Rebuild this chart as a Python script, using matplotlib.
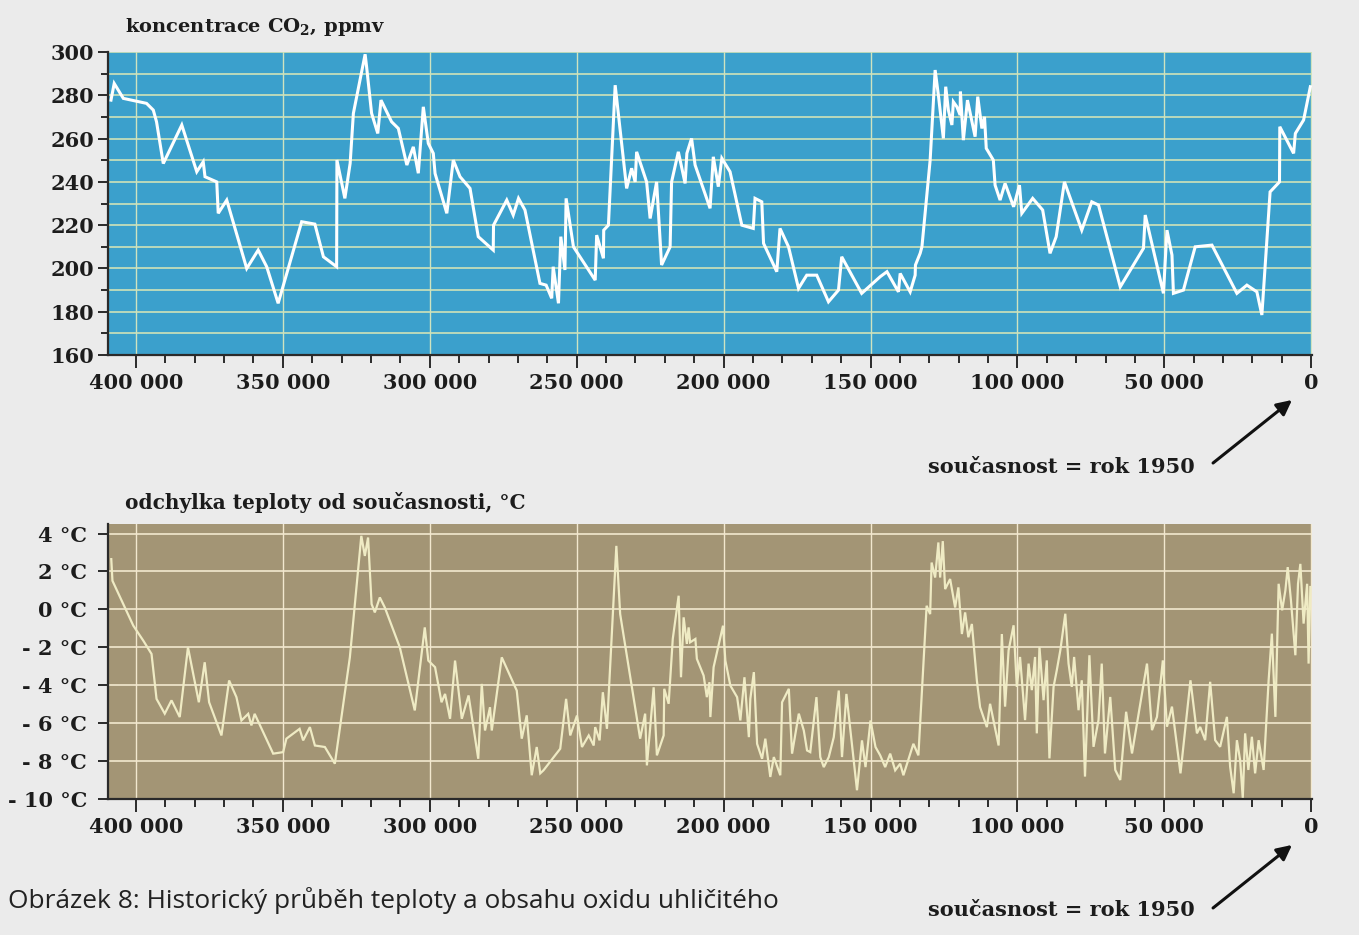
import matplotlib
matplotlib.use('Agg')
import matplotlib.pyplot as plt
from matplotlib.ticker import MultipleLocator, FuncFormatter
import numpy as np

# CO2 concentration (Vostok), age in thousand years before 1950
co2_age = [408.5, 407.4, 404.3, 396.4, 394.1, 393.0, 390.7, 384.4, 379.3, 377.1,
           376.5, 372.5, 372.0, 369.1, 362.3, 358.4, 355.5, 351.6, 343.6, 339.1,
           336.2, 331.7, 331.6, 328.9, 327.1, 326.0, 322.0, 321.5, 319.8, 317.7,
           316.6, 313.0, 310.7, 307.8, 305.6, 303.9, 302.2, 300.5, 298.8, 298.2,
           294.2, 292.0, 289.7, 286.3, 283.5, 278.4, 278.3, 273.8, 271.6, 269.8,
           267.6, 262.5, 260.4, 258.5, 258.0, 256.2, 255.4, 254.0, 253.6, 251.1,
           243.7, 243.2, 240.9, 240.8, 239.2, 236.9, 233.0, 231.3, 230.1, 229.6,
           226.2, 225.0, 222.8, 221.1, 218.2, 217.7, 215.4, 213.1, 212.5, 210.9,
           209.7, 204.6, 203.5, 201.8, 200.6, 197.8, 193.8, 189.9, 189.3, 187.0,
           186.4, 181.9, 180.8, 177.9, 174.5, 171.7, 168.3, 164.3, 160.9, 159.8,
           153.0, 146.7, 144.4, 140.5, 139.9, 136.5, 134.8, 134.7, 133.1, 132.5,
           129.7, 128.0, 126.9, 125.2, 124.4, 123.5, 122.3, 121.8, 120.6, 119.5,
           119.4, 118.4, 117.0, 114.4, 113.5, 112.1, 111.2, 110.6, 108.2, 107.6,
           105.9, 104.2, 101.3, 99.3, 98.5, 94.8, 91.4, 88.9, 86.8, 84.0,
           78.1, 74.7, 72.4, 65.0, 57.1, 56.5, 50.3, 49.1, 47.4, 46.9,
           43.5, 39.5, 33.8, 25.3, 21.9, 18.5, 16.8, 14.0, 10.8, 10.7,
           6.0, 5.4, 2.6, 0.3]
co2_ppmv = [277.8, 285.5, 278.6, 276.3, 273.2, 267.8, 248.5, 266.3, 244.7, 249.3,
            242.4, 240.0, 225.5, 231.6, 200.0, 208.5, 200.8, 183.9, 221.6, 220.5,
            205.4, 200.8, 250.1, 232.4, 248.6, 271.7, 299.0, 293.2, 271.7, 262.4,
            277.8, 267.8, 264.7, 247.8, 256.2, 244.0, 274.7, 257.8, 253.2, 243.9,
            225.5, 250.1, 242.4, 237.0, 214.7, 208.5, 220.0, 231.6, 224.7, 232.4,
            227.0, 193.1, 192.3, 186.2, 200.8, 183.9, 214.7, 199.3, 232.4, 210.0,
            194.6, 215.4, 204.7, 217.7, 220.0, 284.7, 237.0, 246.3, 240.0, 253.9,
            240.0, 223.1, 240.0, 201.6, 210.0, 240.0, 253.9, 239.3, 253.2, 260.1,
            247.8, 227.8, 251.6, 237.8, 250.9, 244.7, 220.0, 218.5, 232.4, 230.8,
            211.6, 198.5, 218.5, 210.0, 190.8, 196.9, 196.9, 184.6, 190.0, 205.4,
            188.5, 196.2, 198.5, 189.2, 197.7, 189.2, 196.9, 201.6, 207.0, 210.0,
            250.1, 291.7, 280.1, 260.1, 284.0, 273.2, 266.3, 277.0, 274.7, 270.9,
            281.7, 259.3, 277.8, 260.9, 279.4, 264.7, 270.1, 255.5, 250.1, 238.5,
            231.6, 239.3, 228.5, 238.5, 225.5, 232.4, 227.0, 207.0, 214.7, 240.0,
            217.7, 230.8, 229.3, 191.5, 209.3, 224.7, 188.5, 217.7, 206.2, 188.5,
            190.0, 210.0, 210.8, 188.5, 192.3, 189.2, 178.5, 235.4, 240.0, 265.5,
            253.2, 262.4, 268.6, 284.0]

# temperature deviation from present, age in thousand years before 1950
temp_age = [408.4, 408.0, 404.3, 400.9, 397.5, 394.7, 393.0, 390.2, 387.9, 385.1,
            382.3, 378.6, 376.6, 375.1, 370.9, 368.3, 365.8, 364.1, 361.8, 360.7,
            359.6, 353.3, 349.9, 348.8, 344.3, 343.1, 340.8, 339.1, 335.7, 332.3,
            327.2, 323.3, 322.1, 321.0, 319.8, 318.7, 317.0, 315.3, 310.2, 305.1,
            301.7, 300.5, 298.2, 296.0, 294.8, 293.1, 291.4, 289.1, 286.8, 283.5,
            282.3, 281.2, 279.5, 278.9, 275.5, 270.4, 268.7, 267.0, 265.3, 263.6,
            262.4, 261.3, 255.6, 253.6, 252.2, 249.9, 248.2, 245.9, 244.2, 243.7,
            242.2, 241.1, 239.7, 236.5, 235.2, 228.4, 226.7, 226.1, 223.8, 222.7,
            220.4, 220.2, 218.7, 217.3, 215.3, 214.5, 213.6, 212.5, 211.9, 211.4,
            209.6, 209.1, 206.8, 205.7, 204.8, 204.5, 203.4, 200.2, 199.4, 197.7,
            195.4, 194.3, 192.9, 191.4, 190.9, 189.7, 188.6, 186.9, 185.8, 184.1,
            182.9, 180.7, 180.1, 177.8, 176.7, 174.4, 172.7, 171.6, 170.5, 168.4,
            167.1, 165.9, 164.2, 162.5, 160.8, 159.7, 158.2, 155.7, 154.6, 152.9,
            151.7, 150.0, 148.3, 146.7, 145.0, 143.3, 141.6, 139.9, 138.8, 135.4,
            133.7, 130.9, 129.7, 129.2, 128.0, 126.9, 126.3, 125.4, 124.6, 122.9,
            121.2, 120.1, 118.9, 117.8, 116.7, 115.5, 113.8, 112.7, 110.4, 109.3,
            106.4, 105.3, 104.2, 103.0, 101.3, 100.2, 99.1, 97.4, 96.2, 95.1,
            94.0, 93.4, 92.5, 91.1, 90.0, 89.1, 87.7, 86.6, 85.4, 83.7,
            82.6, 81.5, 80.7, 79.2, 78.1, 77.0, 75.5, 74.1, 72.4, 71.3,
            70.2, 68.4, 66.7, 65.0, 63.0, 61.0, 55.9, 54.2, 52.5, 50.5,
            49.1, 47.4, 44.5, 41.1, 38.9, 37.8, 36.1, 34.4, 32.7, 31.0,
            28.7, 27.6, 26.4, 25.3, 24.2, 23.3, 22.5, 21.4, 20.2, 19.1,
            17.9, 16.2, 14.5, 13.4, 12.2, 11.1, 9.9, 8.8, 8.0, 6.9,
            5.4, 4.5, 3.7, 2.6, 1.4, 0.9, 0.3]
temp_dc = [2.65, 1.51, 0.28, -0.86, -1.65, -2.35, -4.72, -5.50, -4.80, -5.68,
           -2.00, -4.90, -2.79, -4.90, -6.65, -3.75, -4.63, -5.86, -5.51, -6.12,
           -5.51, -7.61, -7.53, -6.82, -6.30, -6.91, -6.21, -7.18, -7.26, -8.14,
           -2.53, 3.88, 2.82, 3.79, 0.28, -0.16, 0.63, 0.10, -2.00, -5.33,
           -0.95, -2.70, -3.05, -4.90, -4.46, -5.77, -2.70, -5.77, -4.54, -7.88,
           -3.93, -6.39, -5.16, -6.39, -2.53, -4.28, -6.82, -5.59, -8.75, -7.26,
           -8.65, -8.49, -7.35, -4.72, -6.65, -5.60, -7.26, -6.65, -7.18, -6.21,
           -6.91, -4.37, -6.30, 3.35, -0.25, -6.82, -5.50, -8.23, -4.11, -7.70,
           -6.65, -4.19, -4.98, -1.56, 0.72, -3.58, -0.42, -1.82, -0.95, -1.74,
           -1.56, -2.61, -3.49, -4.63, -3.84, -5.68, -3.05, -0.86, -2.70, -4.02,
           -4.63, -5.86, -3.58, -6.74, -4.72, -3.31, -7.09, -7.88, -6.82, -8.84,
           -7.79, -8.75, -4.90, -4.19, -7.61, -5.50, -6.39, -7.44, -7.53, -4.63,
           -7.79, -8.32, -7.79, -6.74, -4.28, -7.79, -4.46, -7.96, -9.54, -6.91,
           -8.32, -5.86, -7.26, -7.70, -8.32, -7.61, -8.49, -8.14, -8.75, -7.09,
           -7.70, 0.19, -0.25, 2.47, 1.68, 3.53, 1.68, 3.60, 1.07, 1.60,
           0.10, 1.16, -1.30, -0.16, -1.47, -0.77, -3.75, -5.16, -6.21, -4.98,
           -7.18, -1.30, -5.13, -2.16, -0.84, -4.09, -2.51, -5.84, -2.86, -4.26,
           -2.51, -6.54, -1.98, -4.79, -2.69, -7.86, -4.09, -3.21, -2.16, -0.23,
           -2.86, -4.09, -2.51, -5.32, -3.74, -8.82, -2.42, -7.25, -5.84, -2.86,
           -7.60, -4.62, -8.47, -9.00, -5.40, -7.60, -2.86, -6.37, -5.67, -2.69,
           -6.19, -5.13, -8.65, -3.74, -6.54, -6.20, -6.90, -3.82, -6.90, -7.25,
           -5.67, -8.30, -9.70, -6.90, -7.95, -9.96, -6.54, -8.47, -6.72, -8.65,
           -6.90, -8.47, -3.74, -1.28, -5.67, 1.35, -0.05, 1.00, 2.23, 0.47,
           -2.42, 1.35, 2.40, -0.75, 1.35, -2.86, 1.18]

co2_ticks = [160, 180, 200, 220, 240, 260, 280, 300]
temp_ticks = [-10, -8, -6, -4, -2, 0, 2, 4]
year_ticks = [400000, 350000, 300000, 250000, 200000, 150000, 100000, 50000, 0]

BG = '#ebebeb'
INK = '#1c1c1c'
SERIF = 'DejaVu Serif'
plt.rcParams['mathtext.fontset'] = 'dejavuserif'

fig = plt.figure(figsize=(13.59, 9.35), dpi=100, facecolor=BG)
ax1 = fig.add_axes([0.0795, 0.6203, 0.886, 0.324])
ax2 = fig.add_axes([0.0795, 0.1455, 0.886, 0.294])


def year_label(v, pos):
    return f"{int(round(v)):,}".replace(',', ' ')


def temp_label(v, pos):
    v = int(round(v))
    return f"{v} °C" if v >= 0 else f"- {abs(v)} °C"


def style_axis(ax, face, grid_color, ypad):
    ax.set_facecolor(face)
    ax.set_xlim(409500, -300)
    ax.set_xticks(year_ticks)
    ax.xaxis.set_minor_locator(MultipleLocator(10000))
    ax.xaxis.set_major_formatter(FuncFormatter(year_label))
    for s in ['top', 'right']:
        ax.spines[s].set_visible(False)
    for s in ['left', 'bottom']:
        ax.spines[s].set_color('#2a2a2a')
        ax.spines[s].set_linewidth(1.6)
    ax.tick_params(axis='x', which='major', length=9, width=1.4, color='#2a2a2a', pad=4)
    ax.tick_params(axis='x', which='minor', length=5.5, width=1.4, color='#2a2a2a')
    ax.tick_params(axis='y', which='major', length=7, width=1.4, color='#2a2a2a', pad=ypad)
    ax.tick_params(axis='y', which='minor', length=5, width=1.4, color='#2a2a2a')
    for lab in ax.get_xticklabels() + ax.get_yticklabels():
        lab.set_fontfamily(SERIF)
        lab.set_fontweight('bold')
        lab.set_fontsize(15)
        lab.set_color(INK)
    ax.grid(axis='x', which='major', color=grid_color, lw=1.0)
    ax.set_axisbelow(True)


# top: CO2
ax1.set_ylim(160, 300)
ax1.set_yticks(co2_ticks)
ax1.yaxis.set_minor_locator(MultipleLocator(10))
style_axis(ax1, '#3ba0cc', '#cfe3c0', 3)
ax1.grid(axis='y', which='both', color='#cfe3b8', lw=1.2)
ax1.plot(np.array(co2_age) * 1000, co2_ppmv, color='white', lw=2.2,
         solid_joinstyle='miter')

# bottom: temperature
ax2.set_ylim(-10, 4.5)
ax2.set_yticks(temp_ticks)
ax2.yaxis.set_major_formatter(FuncFormatter(temp_label))
style_axis(ax2, '#a39575', '#f2e8cf', 8)
for lab in ax2.get_yticklabels():
    lab.set_fontfamily(SERIF)
    lab.set_fontweight('bold')
    lab.set_fontsize(15)
ax2.grid(axis='y', which='major', color='#f2e8cf', lw=1.2)
ax2.plot(np.array(temp_age) * 1000, temp_dc, color='#efebc4', lw=1.6,
         solid_joinstyle='miter')

# titles
fig.text(0.092, 0.971, r'koncentrace CO$_\mathbf{2}$, ppmv', family=SERIF,
         weight='bold', fontsize=14, color=INK, va='center')
fig.text(0.092, 0.463, 'odchylka teploty od současnosti, °C', family=SERIF,
         weight='bold', fontsize=14.5, color=INK, va='center')

# "present" notes with arrows
for ty, tail, head in [(0.5005, (0.8926, 0.5048), (0.9507, 0.5722)),
                       (0.0267, (0.8926, 0.0289), (0.9507, 0.0963))]:
    fig.text(0.879, ty, 'současnost = rok 1950', family=SERIF, weight='bold',
             fontsize=15, color=INK, ha='right', va='center')
    ax1.annotate('', xy=head, xycoords='figure fraction', xytext=tail,
                 textcoords='figure fraction', annotation_clip=False,
                 arrowprops=dict(arrowstyle='-|>,head_length=0.9,head_width=0.45',
                                 color='#111111', lw=2.2, shrinkA=0, shrinkB=0))

# caption, fitted to its width in the reference
cap = fig.text(0.006, 0.0374, 'Obrázek 8: Historický průběh teploty a obsahu oxidu uhličitého',
               family=['Liberation Sans Narrow', 'Open Sans', 'DejaVu Sans'],
               fontsize=20, color='#222222', va='center')
r = fig.canvas.get_renderer()
w = cap.get_window_extent(r).width
cap.set_fontsize(20 * 768 / w)

fig.savefig('out.png', dpi=100, facecolor=BG)
